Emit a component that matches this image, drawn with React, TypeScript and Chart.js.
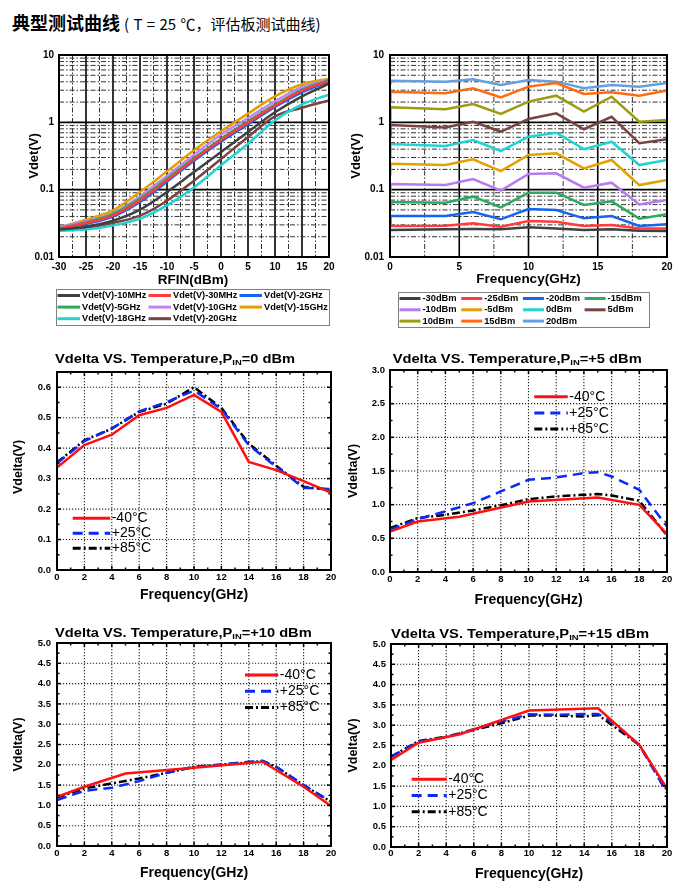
import React, { useEffect, useRef } from 'react';
import { Chart, registerables } from 'chart.js';

Chart.register(...registerables);

const FAM = '"Liberation Sans", Arial, Helvetica, sans-serif';

// ---------------- Top-left: Vdet vs RFIN ----------------
const rfinDbm = [-30, -25, -20, -15, -10, -5, 0, 5, 10, 15, 20];
const freqSeriesLabels = ['Vdet(V)-10MHz', 'Vdet(V)-30MHz', 'Vdet(V)-2GHz', 'Vdet(V)-5GHz', 'Vdet(V)-10GHz', 'Vdet(V)-15GHz', 'Vdet(V)-18GHz', 'Vdet(V)-20GHz'];
const vdet10MHz = [0.0255, 0.0282, 0.0346, 0.0505, 0.0923, 0.183, 0.363, 0.719, 1.41, 2.43, 3.75];
const vdet30MHz = [0.0264, 0.032, 0.0416, 0.0694, 0.1376, 0.282, 0.547, 0.989, 1.77, 2.95, 4.11];
const vdet2GHz = [0.026, 0.0309, 0.0397, 0.0656, 0.1315, 0.27, 0.516, 0.934, 1.69, 2.79, 4.02];
const vdet5GHz = [0.0267, 0.0327, 0.0435, 0.0735, 0.1457, 0.295, 0.572, 1.035, 1.83, 3.06, 4.21];
const vdet10GHz = [0.0279, 0.0339, 0.045, 0.0796, 0.1614, 0.331, 0.656, 1.16, 2.05, 3.35, 4.3];
const vdet15GHz = [0.0276, 0.0358, 0.0493, 0.0923, 0.187, 0.384, 0.735, 1.345, 2.43, 3.67, 4.45];
const vdet18GHz = [0.0246, 0.0255, 0.0295, 0.0371, 0.0585, 0.108, 0.23, 0.482, 1.07, 1.85, 2.58];
const vdet20GHz = [0.0252, 0.0273, 0.032, 0.0411, 0.0686, 0.136, 0.285, 0.606, 1.23, 1.65, 2.12];
const freqSeriesColors = ['#404040', '#FF3B3B', '#1565F0', '#2CAA5E', '#C084F5', '#E3A100', '#22D3D3', '#7A4343'];

// ---------------- Top-right: Vdet vs Frequency ----------------
const freqGHz = [0.01, 0.03, 4, 6, 8, 10, 12, 14, 16, 18, 20];
const pinSeriesLabels = ['-30dBm', '-25dBm', '-20dBm', '-15dBm', '-10dBm', '-5dBm', '0dBm', '5dBm', '10dBm', '15dBm', '20dBm'];
const vPinM30 = [0.0252, 0.0252, 0.0258, 0.026, 0.0258, 0.0276, 0.0266, 0.0252, 0.0258, 0.0246, 0.0243];
const vPinM25 = [0.0285, 0.0289, 0.0292, 0.0316, 0.0282, 0.0342, 0.0335, 0.0289, 0.0299, 0.0266, 0.0266];
const vPinM20 = [0.0323, 0.0406, 0.0406, 0.0466, 0.0363, 0.0516, 0.0499, 0.0375, 0.0406, 0.0289, 0.0306];
const vPinM15 = [0.053, 0.0656, 0.064, 0.0787, 0.0547, 0.0902, 0.0902, 0.0592, 0.067, 0.0371, 0.043];
const vPinM10 = [0.093, 0.121, 0.117, 0.144, 0.097, 0.171, 0.175, 0.107, 0.127, 0.0605, 0.07];
const vPinM5 = [0.17, 0.243, 0.232, 0.282, 0.189, 0.327, 0.347, 0.207, 0.276, 0.117, 0.139];
const vPin0 = [0.32, 0.477, 0.445, 0.547, 0.375, 0.612, 0.7, 0.4, 0.516, 0.232, 0.276];
const vPin5 = [0.62, 0.91, 0.84, 1.02, 0.73, 1.12, 1.36, 0.79, 1.21, 0.49, 0.56];
const vPin10 = [1.1, 1.67, 1.56, 1.87, 1.33, 2.03, 2.49, 1.44, 2.4, 1.02, 1.08];
const vPin15 = [2.03, 2.85, 2.7, 3.2, 2.35, 3.39, 3.84, 2.64, 2.79, 2.49, 2.98];
const vPin20 = [3.8, 4.16, 4.02, 4.35, 3.58, 4.25, 4.02, 3.2, 3.58, 3.39, 3.84];
const pinSeriesColors = ['#404040', '#FF3B3B', '#1565F0', '#2CAA5E', '#B87AF0', '#E3A100', '#22D3D3', '#7A4343', '#9C9C12', '#FF6A10', '#64A0E0'];

// ---------------- Bottom: Vdelta vs Temperature ----------------
const tempLabels = ['-40°C', '+25°C', '+85°C'];
const fEven = [0, 2, 4, 6, 8, 10, 12, 14, 16, 18, 20];
const fRed = [0, 2, 5, 10, 15, 18, 20];
const fFine = [0, 2, 4, 6, 8, 10, 12, 14, 15, 16, 18, 20];

const p0_m40 = [0.336, 0.41, 0.444, 0.508, 0.532, 0.575, 0.519, 0.355, 0.328, 0.292, 0.254];
const p0_p25 = [0.35, 0.423, 0.464, 0.521, 0.551, 0.589, 0.529, 0.41, 0.339, 0.27, 0.266];
const p0_p85 = [0.353, 0.426, 0.464, 0.519, 0.546, 0.6, 0.532, 0.415, 0.342, 0.273, 0.263];

const p5_m40 = [0.6, 0.75, 0.82, 1.048, 1.107, 0.998, 0.563];
const p5_p25 = [0.628, 0.786, 0.9, 1.023, 1.196, 1.369, 1.404, 1.468, 1.483, 1.419, 1.22, 0.677];
const p5_p85 = [0.653, 0.8, 0.85, 0.914, 0.99, 1.083, 1.122, 1.147, 1.157, 1.137, 1.058, 0.544];

const p10_m40 = [1.213, 1.459, 1.787, 1.926, 2.074, 1.459, 0.984];
const p10_p25 = [1.131, 1.36, 1.434, 1.598, 1.803, 1.95, 2.008, 2.074, 2.098, 1.95, 1.5, 1.09];
const p10_p85 = [1.19, 1.418, 1.541, 1.664, 1.803, 1.95, 2.0, 2.06, 2.09, 1.95, 1.5, 1.09];

const p15_m40 = [2.142, 2.57, 2.776, 3.361, 3.418, 2.512, 1.441];
const p15_p25 = [2.224, 2.595, 2.702, 2.9, 3.089, 3.27, 3.254, 3.278, 3.278, 3.089, 2.512, 1.334];
const p15_p85 = [2.224, 2.611, 2.718, 2.883, 3.048, 3.237, 3.237, 3.213, 3.254, 3.007, 2.512, 1.4];

// ---------------- helpers ----------------
type GL = { v: number; dash?: number[]; color: string; w: number };
type Part = { t: string; size: number; dy?: number };
type TextItem = { parts: Part[]; x: number; y: number; bold?: boolean; align?: 'left' | 'center'; rot?: boolean; width?: number };
type LegendCfg = {
  x: number; y: number; colW: number; rowH: number; cols: number; lineLen: number; gap: number;
  size: number; bold: boolean; lineW: number; box?: { x: number; y: number; w: number; h: number };
};
type Rect = { x: number; y: number; w: number; h: number };
type TickSet = { xs: number[]; ys: number[]; len: number };

const pts = (xs: number[], ys: number[]) => xs.map((x, i) => ({ x, y: ys[i] }));
const range = (a: number, b: number, s: number) => {
  const r: number[] = [];
  for (let v = a; v <= b + 1e-9; v += s) r.push(+v.toFixed(6));
  return r;
};

function seg(ctx: CanvasRenderingContext2D, x1: number, y1: number, x2: number, y2: number, g: GL) {
  ctx.beginPath();
  ctx.strokeStyle = g.color;
  ctx.lineWidth = g.w;
  ctx.setLineDash(g.dash || []);
  ctx.moveTo(x1, y1);
  ctx.lineTo(x2, y2);
  ctx.stroke();
}

function drawText(ctx: CanvasRenderingContext2D, it: TextItem) {
  ctx.save();
  ctx.translate(it.x, it.y);
  if (it.rot) ctx.rotate(-Math.PI / 2);
  const fonts = it.parts.map((p) => `${it.bold ? 'bold ' : ''}${p.size}px ${FAM}`);
  const ws = it.parts.map((p, i) => {
    ctx.font = fonts[i];
    return ctx.measureText(p.t).width;
  });
  const total = ws.reduce((a, b) => a + b, 0);
  const sx = it.width ? it.width / total : 1;
  ctx.scale(sx, 1);
  let x = it.align === 'center' ? -total / 2 : 0;
  ctx.fillStyle = '#000';
  ctx.textBaseline = 'middle';
  ctx.textAlign = 'left';
  it.parts.forEach((p, i) => {
    ctx.font = fonts[i];
    ctx.fillText(p.t, x, p.dy || 0);
    x += ws[i];
  });
  ctx.restore();
}

type Decor = {
  gridX: GL[]; gridY: GL[]; frameW: number;
  innerTicks?: TickSet[];
  texts: TextItem[]; legend: LegendCfg;
};

function makeDecor(d: Decor) {
  return {
    id: 'decor',
    beforeDatasetsDraw(chart: any) {
      const { ctx, chartArea: a } = chart;
      const sx = chart.scales.x;
      const sy = chart.scales.y;
      ctx.save();
      ctx.beginPath();
      ctx.rect(a.left, a.top, a.right - a.left, a.bottom - a.top);
      ctx.clip();
      d.gridX.forEach((g) => {
        const p = sx.getPixelForValue(g.v);
        seg(ctx, p, a.top, p, a.bottom, g);
      });
      d.gridY.forEach((g) => {
        const p = sy.getPixelForValue(g.v);
        seg(ctx, a.left, p, a.right, p, g);
      });
      ctx.restore();
    },
    afterDatasetsDraw(chart: any) {
      const { ctx, chartArea: a } = chart;
      const sx = chart.scales.x;
      const sy = chart.scales.y;
      ctx.save();
      (d.innerTicks || []).forEach((t) => {
        const g: GL = { v: 0, color: '#000', w: 1.5 };
        t.xs.forEach((v) => {
          const p = sx.getPixelForValue(v);
          seg(ctx, p, a.bottom, p, a.bottom - t.len, g);
          seg(ctx, p, a.top, p, a.top + t.len, g);
        });
        t.ys.forEach((v) => {
          const p = sy.getPixelForValue(v);
          seg(ctx, a.left, p, a.left + t.len, p, g);
          seg(ctx, a.right, p, a.right - t.len, p, g);
        });
      });
      ctx.setLineDash([]);
      ctx.strokeStyle = '#000';
      ctx.lineWidth = d.frameW;
      ctx.strokeRect(a.left, a.top, a.right - a.left, a.bottom - a.top);
      ctx.restore();

      // legend
      const L = d.legend;
      ctx.save();
      if (L.box) {
        ctx.strokeStyle = '#808080';
        ctx.lineWidth = 1;
        ctx.strokeRect(L.box.x + 0.5, L.box.y + 0.5, L.box.w, L.box.h);
      }
      chart.data.datasets.forEach((ds: any, i: number) => {
        const c = i % L.cols;
        const r = Math.floor(i / L.cols);
        const x = L.x + c * L.colW;
        const y = L.y + r * L.rowH;
        ctx.strokeStyle = ds.borderColor;
        ctx.lineWidth = L.lineW;
        ctx.setLineDash(ds.borderDash || []);
        ctx.beginPath();
        ctx.moveTo(x, y);
        ctx.lineTo(x + L.lineLen, y);
        ctx.stroke();
        ctx.setLineDash([]);
        ctx.fillStyle = '#000';
        ctx.font = `${L.bold ? 'bold ' : ''}${L.size}px ${FAM}`;
        ctx.textBaseline = 'middle';
        ctx.textAlign = 'left';
        ctx.fillText(ds.label, x + L.lineLen + L.gap, y);
      });
      ctx.restore();

      d.texts.forEach((t) => drawText(ctx, t));
    },
  };
}

type Spec = {
  box: Rect;
  plot: { l: number; t: number; r: number; b: number };
  x: { min: number; max: number; step: number; size: number; pad: number; fmt: (v: number) => string };
  y: { log: boolean; min: number; max: number; step?: number; size: number; pad: number; fmt: (v: number) => string };
  datasets: any[];
  gridX: GL[]; gridY: GL[]; frameW: number;
  innerTicks?: TickSet[];
  texts: TextItem[]; legend: LegendCfg;
};

const XH = 20;

function buildConfig(s: Spec): any {
  const ox = s.box.x;
  const oy = s.box.y;
  const padTop = s.plot.t - oy;
  const padRight = ox + s.box.w - s.plot.r;
  const yW = s.plot.l - ox;
  const padBottom = oy + s.box.h - s.plot.b - XH;
  const texts = s.texts.map((t) => ({ ...t, x: t.x - ox, y: t.y - oy }));
  const L = s.legend;
  const legend: LegendCfg = {
    ...L,
    x: L.x - ox,
    y: L.y - oy,
    box: L.box ? { ...L.box, x: L.box.x - ox, y: L.box.y - oy } : undefined,
  };
  const tickFont = (size: number) => ({ family: FAM, size, weight: 'bold' as const, lineHeight: 1.2 });
  const noGrid = { display: false, drawTicks: false, tickLength: 0 };
  return {
    type: 'line',
    data: { datasets: s.datasets },
    options: {
      animation: false,
      responsive: true,
      maintainAspectRatio: false,
      layout: { padding: { top: padTop, right: padRight, bottom: padBottom, left: 0 } },
      plugins: { legend: { display: false }, tooltip: { enabled: false }, title: { display: false } },
      elements: { point: { radius: 0 } },
      scales: {
        x: {
          type: 'linear',
          min: s.x.min,
          max: s.x.max,
          ticks: {
            stepSize: s.x.step,
            autoSkip: false,
            maxRotation: 0,
            minRotation: 0,
            padding: s.x.pad,
            color: '#000',
            font: tickFont(s.x.size),
            callback: (v: any) => s.x.fmt(Number(v)),
          },
          grid: noGrid,
          border: { display: false },
          afterFit: (sc: any) => { sc.height = XH; },
        },
        y: s.y.log
          ? {
              type: 'logarithmic',
              min: s.y.min,
              max: s.y.max,
              ticks: {
                autoSkip: false,
                padding: s.y.pad,
                color: '#000',
                font: tickFont(s.y.size),
                callback: (v: any) => s.y.fmt(Number(v)),
              },
              grid: noGrid,
              border: { display: false },
              afterFit: (sc: any) => { sc.width = yW; },
            }
          : {
              type: 'linear',
              min: s.y.min,
              max: s.y.max,
              ticks: {
                stepSize: s.y.step,
                includeBounds: false,
                autoSkip: false,
                padding: s.y.pad,
                color: '#000',
                font: tickFont(s.y.size),
                callback: (v: any) => s.y.fmt(Number(v)),
              },
              grid: noGrid,
              border: { display: false },
              afterFit: (sc: any) => { sc.width = yW; },
            },
      },
    },
    plugins: [makeDecor({ gridX: s.gridX, gridY: s.gridY, frameW: s.frameW, innerTicks: s.innerTicks, texts, legend })],
  };
}

// grid line styles
const solidMajor = (v: number): GL => ({ v, color: '#000', w: 1.6 });
const dashDot = (v: number): GL => ({ v, color: '#333', w: 1, dash: [5, 2, 1.5, 2] });
const dotted = (v: number): GL => ({ v, color: '#222', w: 1.1, dash: [1.2, 1.8] });

const logMinor: number[] = [];
[0.01, 0.1, 1].forEach((d) => { for (let k = 2; k <= 9; k++) logMinor.push(+(k * d).toFixed(4)); });
const logGridY: GL[] = [...logMinor.map(dashDot), ...[0.1, 1].map(solidMajor)];

const logLabel = (v: number) => {
  const e = Math.log10(v);
  const r = Math.round(e);
  if (Math.abs(e - r) > 1e-6) return '';
  return ['0.01', '0.1', '1', '10'][r + 2] ?? '';
};

const lineDs = (label: string, xs: number[], ys: number[], color: string, extra: any = {}) => ({
  label,
  data: pts(xs, ys),
  borderColor: color,
  backgroundColor: color,
  borderWidth: 2.5,
  pointRadius: 0,
  fill: false,
  ...extra,
});

const tlSeries = [vdet10MHz, vdet30MHz, vdet2GHz, vdet5GHz, vdet10GHz, vdet15GHz, vdet18GHz, vdet20GHz];
const trSeries = [vPinM30, vPinM25, vPinM20, vPinM15, vPinM10, vPinM5, vPin0, vPin5, vPin10, vPin15, vPin20];

const specTL: Spec = {
  box: { x: 0, y: 40, w: 345, h: 300 },
  plot: { l: 59, t: 55, r: 329, b: 257 },
  x: { min: -30, max: 20, step: 5, size: 10, pad: 4, fmt: (v) => String(v) },
  y: { log: true, min: 0.01, max: 10, size: 10, pad: 5, fmt: logLabel },
  datasets: tlSeries.map((ys, i) =>
    lineDs(freqSeriesLabels[i], rfinDbm, ys, freqSeriesColors[i], { cubicInterpolationMode: 'monotone' })
  ),
  gridX: [...range(-27.5, 17.5, 5).map(dashDot), ...range(-25, 15, 5).map(solidMajor)],
  gridY: logGridY,
  frameW: 2,
  texts: [
    { parts: [{ t: 'RFIN(dBm)', size: 13.5 }], x: 193, y: 280, bold: true, align: 'center' },
    { parts: [{ t: 'Vdet(V)', size: 13 }], x: 34, y: 156, bold: true, align: 'center', rot: true },
  ],
  legend: { x: 57.5, y: 295.5, colW: 91, rowH: 11.6, cols: 3, lineLen: 22.5, gap: 2, size: 9.2, bold: true, lineW: 3, box: { x: 56, y: 289, w: 273, h: 36 } },
};

const specTR: Spec = {
  box: { x: 345, y: 40, w: 352, h: 300 },
  plot: { l: 390, t: 55, r: 667, b: 257 },
  x: { min: 0, max: 20, step: 5, size: 10, pad: 4, fmt: (v) => String(v) },
  y: { log: true, min: 0.01, max: 10, size: 10, pad: 6, fmt: logLabel },
  datasets: trSeries.map((ys, i) => lineDs(pinSeriesLabels[i], freqGHz, ys, pinSeriesColors[i])),
  gridX: [...range(2.5, 17.5, 5).map(dashDot), ...range(5, 15, 5).map(solidMajor)],
  gridY: logGridY,
  frameW: 2,
  texts: [
    { parts: [{ t: 'Frequency(GHz)', size: 13.5 }], x: 528.5, y: 279.5, bold: true, align: 'center' },
    { parts: [{ t: 'Vdet(V)', size: 13 }], x: 356, y: 156, bold: true, align: 'center', rot: true },
  ],
  legend: { x: 399.5, y: 298.5, colW: 61.7, rowH: 11.3, cols: 4, lineLen: 21, gap: 2, size: 9.3, bold: true, lineW: 3, box: { x: 398, y: 292, w: 251, h: 35 } },
};

const tempStyles = [
  { color: '#FF1010', extra: {} },
  { color: '#0A2AF5', extra: { borderDash: [10, 6] } },
  { color: '#000000', extra: { borderDash: [8, 3, 2, 3] } },
];

function bottomSpec(o: {
  box: Rect; plot: { l: number; t: number; r: number; b: number }; ymax: number; ystep: number;
  xsList: number[][]; ysList: number[][]; pin: string; titleX: number; titleY: number; titleW: number;
  xTitle: [number, number]; yTitle: [number, number]; leg: [number, number, number, number]; ypad: number; xpad: number;
}): Spec {
  const yTickVals = range(o.ystep, o.ymax, o.ystep).filter((v) => v < o.ymax - 1e-6);
  const yMinorVals = range(o.ystep / 2, o.ymax, o.ystep).filter((v) => v < o.ymax - 1e-6);
  return {
    box: o.box,
    plot: o.plot,
    x: { min: 0, max: 20, step: 2, size: 9.5, pad: o.xpad, fmt: (v) => String(v) },
    y: { log: false, min: 0, max: o.ymax, step: o.ystep, size: 9.5, pad: o.ypad, fmt: (v) => v.toFixed(1) },
    datasets: tempLabels.map((lab, i) => lineDs(lab, o.xsList[i], o.ysList[i], tempStyles[i].color, tempStyles[i].extra)),
    gridX: range(2, 18, 2).map(dotted),
    gridY: yTickVals.map(dotted),
    frameW: 2,
    innerTicks: [
      { xs: range(2, 18, 2), ys: yTickVals, len: 4 },
      { xs: range(1, 19, 2), ys: yMinorVals, len: 2.5 },
    ],
    texts: [
      {
        parts: [{ t: 'Vdelta VS. Temperature,P', size: 12.5 }, { t: 'IN', size: 8, dy: 3 }, { t: o.pin, size: 12.5 }],
        x: o.titleX, y: o.titleY, bold: true, align: 'left', width: o.titleW,
      },
      { parts: [{ t: 'Frequency(GHz)', size: 14 }], x: o.xTitle[0], y: o.xTitle[1], bold: true, align: 'center' },
      { parts: [{ t: 'Vdelta(V)', size: 12.5 }], x: o.yTitle[0], y: o.yTitle[1], bold: true, align: 'center', rot: true },
    ],
    legend: { x: o.leg[0], y: o.leg[1], colW: 0, rowH: o.leg[2], cols: 1, lineLen: o.leg[3], gap: 1.5, size: 14, bold: false, lineW: 3 },
  };
}

const specB1 = bottomSpec({
  box: { x: 0, y: 340, w: 345, h: 275 }, plot: { l: 57, t: 372, r: 331, b: 570 }, ymax: 0.65, ystep: 0.1,
  xsList: [fEven, fEven, fEven], ysList: [p0_m40, p0_p25, p0_p85], pin: '=0 dBm',
  titleX: 55, titleY: 360, titleW: 240, xTitle: [194, 595], yTitle: [19, 467], leg: [72.7, 518.3, 15, 37.5], ypad: 6, xpad: 1.5,
});
const specB2 = bottomSpec({
  box: { x: 345, y: 340, w: 352, h: 275 }, plot: { l: 390, t: 370, r: 667, b: 572 }, ymax: 3, ystep: 0.5,
  xsList: [fRed, fFine, fFine], ysList: [p5_m40, p5_p25, p5_p85], pin: '=+5 dBm',
  titleX: 392.7, titleY: 360, titleW: 249, xTitle: [528.5, 600], yTitle: [353.5, 471], leg: [534.3, 396.7, 16.2, 33.5], ypad: 5, xpad: 2,
});
const specB3 = bottomSpec({
  box: { x: 0, y: 615, w: 345, h: 277 }, plot: { l: 57, t: 643, r: 331, b: 846 }, ymax: 5, ystep: 0.5,
  xsList: [fRed, fFine, fFine], ysList: [p10_m40, p10_p25, p10_p85], pin: '=+10 dBm',
  titleX: 55, titleY: 633.3, titleW: 256.7, xTitle: [194, 873.3], yTitle: [19, 744.5], leg: [245, 675, 16.2, 33.3], ypad: 6, xpad: 1.5,
});
const specB4 = bottomSpec({
  box: { x: 345, y: 615, w: 352, h: 277 }, plot: { l: 391, t: 644, r: 667, b: 847 }, ymax: 5, ystep: 0.5,
  xsList: [fRed, fFine, fFine], ysList: [p15_m40, p15_p25, p15_p85], pin: '=+15 dBm',
  titleX: 391, titleY: 635, titleW: 258, xTitle: [529, 874], yTitle: [353.5, 745.5], leg: [411.7, 779.3, 16.2, 35], ypad: 5, xpad: 1,
});

function ChartBox({ spec }: { spec: Spec }) {
  const ref = useRef<HTMLCanvasElement>(null);
  useEffect(() => {
    if (!ref.current) return;
    const chart = new Chart(ref.current, buildConfig(spec));
    return () => chart.destroy();
  }, [spec]);
  const b = spec.box;
  return (
    <div style={{ position: 'absolute', left: b.x, top: b.y, width: b.w, height: b.h }}>
      <canvas ref={ref} />
    </div>
  );
}

export default function App() {
  return (
    <div style={{ position: 'absolute', left: 0, top: 0, width: 697, height: 892, background: '#fff', overflow: 'hidden' }}>
      <div
        style={{
          position: 'absolute', left: 12, top: 11, whiteSpace: 'nowrap', color: '#000',
          fontFamily: '"Noto Sans CJK SC", "Noto Sans", sans-serif', lineHeight: '22px',
        }}
      >
        <span style={{ fontSize: 18, fontWeight: 700 }}>典型测试曲线</span>
        <span style={{ fontSize: 15, marginLeft: 4, wordSpacing: 1 }}>( T = 25 ℃，评估板测试曲线)</span>
      </div>
      <ChartBox spec={specTL} />
      <ChartBox spec={specTR} />
      <ChartBox spec={specB1} />
      <ChartBox spec={specB2} />
      <ChartBox spec={specB3} />
      <ChartBox spec={specB4} />
    </div>
  );
}
